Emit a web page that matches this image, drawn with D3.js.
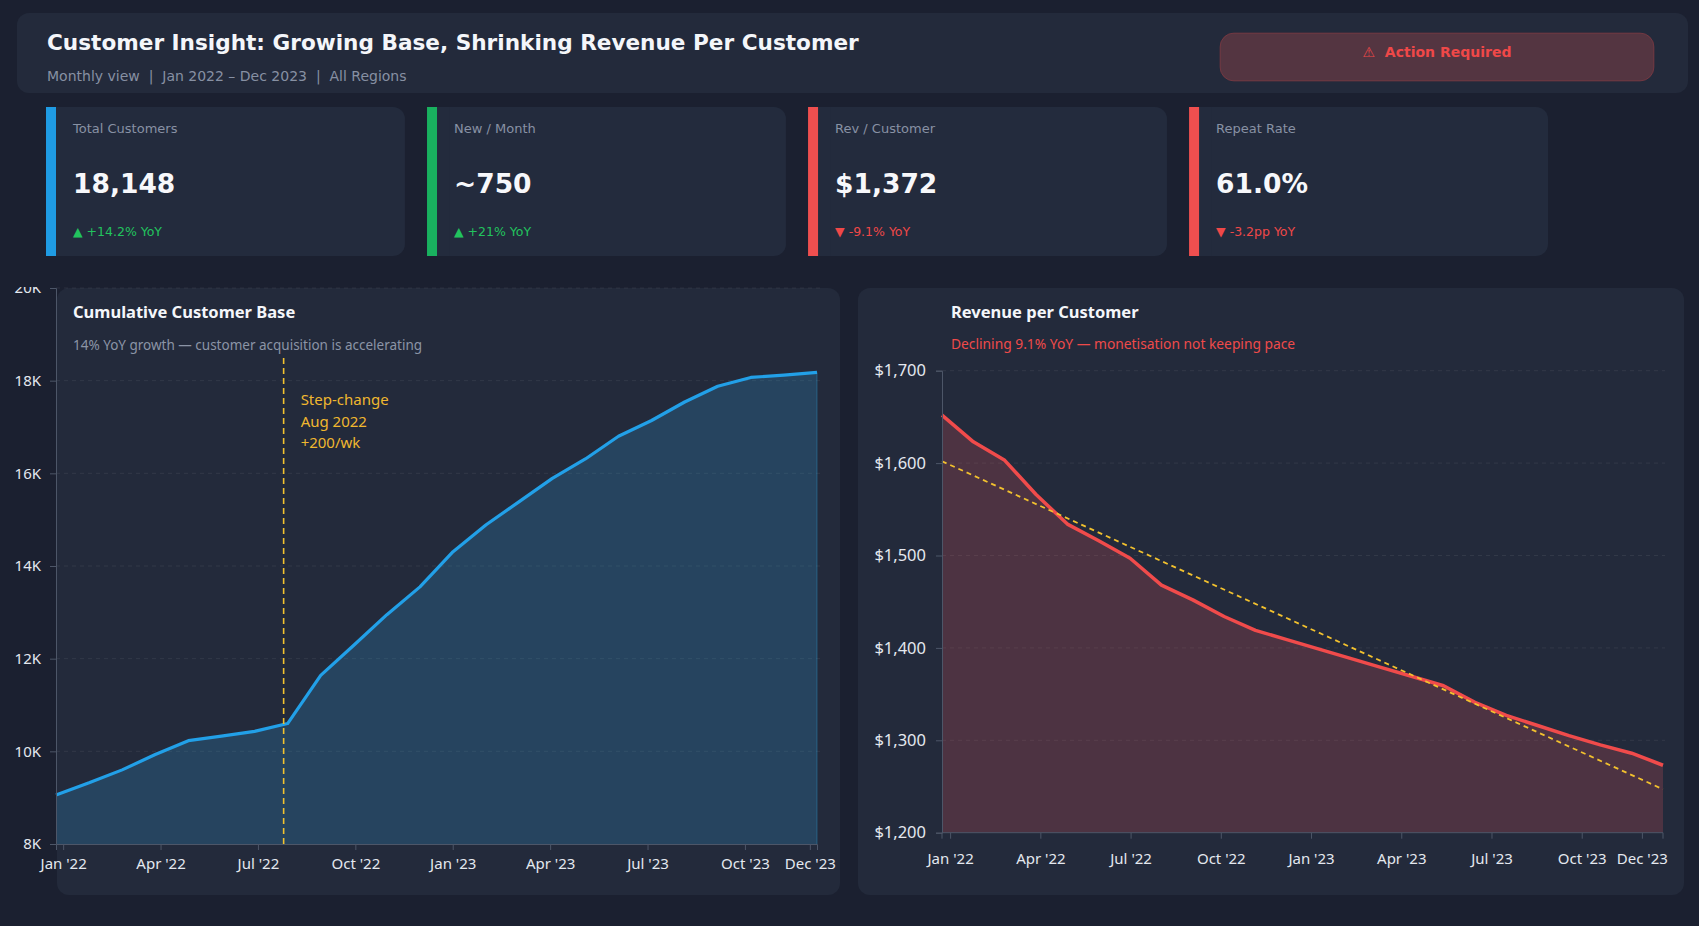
<!DOCTYPE html>
<html>
<head>
<meta charset="utf-8">
<script src="https://cdn.jsdelivr.net/npm/d3@7"></script>
<style>
  body { margin: 0; background: #1b2030; }
  svg { display: block; }
</style>
</head>
<body>
<svg id="dash" width="1699" height="926"></svg>
<script>
// ---- data ----
const months = ["Jan '22", "Feb '22", "Mar '22", "Apr '22", "May '22", "Jun '22",
  "Jul '22", "Aug '22", "Sep '22", "Oct '22", "Nov '22", "Dec '22",
  "Jan '23", "Feb '23", "Mar '23", "Apr '23", "May '23", "Jun '23",
  "Jul '23", "Aug '23", "Sep '23", "Oct '23", "Nov '23", "Dec '23"];
const tickMonths = ["Jan '22", "Apr '22", "Jul '22", "Oct '22", "Jan '23", "Apr '23", "Jul '23", "Oct '23", "Dec '23"];

// cumulative customers per month
const customerBase = [9060, 9320, 9600, 9930, 10230, 10330, 10430, 10600, 11640, 12290, 12950, 13550,
  14310, 14890, 15390, 15890, 16310, 16800, 17140, 17540, 17880, 18070, 18120, 18180];
const customerTicks = [8000, 10000, 12000, 14000, 16000, 18000, 20000];

// revenue per customer per month
const revenuePerCustomer = [1652, 1623, 1603, 1566, 1534, 1516, 1497, 1468, 1452, 1434, 1419, 1409,
  1399, 1389, 1379, 1369, 1359, 1341, 1327, 1316, 1305, 1295, 1286, 1273];
const revenueTicks = [1200, 1300, 1400, 1500, 1600, 1700];
const revenueTrend = [1602, 1247]; // trend value at first and last month

const stepChangeAt = 6.88; // month index of the step-change marker
const stepChangeNote = ["Step-change", "Aug 2022", "+200/wk"];

const kpiLabels = ["Total Customers", "New / Month", "Rev / Customer", "Repeat Rate"];
const kpiValues = ["18,148", "~750", "$1,372", "61.0%"];
const kpiDeltas = ["▲ +14.2% YoY", "▲ +21% YoY", "▼ -9.1% YoY", "▼ -3.2pp YoY"];
const kpiUp = [true, true, false, false];

// ---- styles ----
const UI = "'DejaVu Sans', sans-serif";
const CH = "'Noto Sans', sans-serif";
const panelFill = '#232a3b';
const cardFill = '#232b3d';
const accentColours = ['#1f9be3', '#19b15f', '#ef4f4f', '#ef4f4f'];
const green = '#22c35e', red = '#ef4848', yellow = '#f2c12e';
const axisColour = '#4d5668', gridColour = 'rgba(255,255,255,0.07)', tickText = '#e4e8ef';

const svg = d3.select('#dash');

// Header
svg.append('rect').attr('x', 17).attr('y', 13).attr('width', 1671).attr('height', 80)
  .attr('rx', 12).attr('fill', panelFill);
svg.append('text').attr('x', 47).attr('y', 50)
  .style('font', `bold 21.6px ${UI}`).attr('fill', '#f4f6fa')
  .text('Customer Insight: Growing Base, Shrinking Revenue Per Customer');
svg.append('text').attr('x', 47).attr('y', 81)
  .style('font', `14px ${UI}`).style('white-space', 'pre').attr('fill', '#8790a3')
  .text('Monthly view  |  Jan 2022 \u2013 Dec 2023  |  All Regions');

// Action button
svg.append('rect').attr('x', 1220).attr('y', 33).attr('width', 434).attr('height', 48)
  .attr('rx', 14).attr('fill', '#543541').attr('stroke', 'rgba(239,72,72,0.25)');
svg.append('text').attr('x', 1437).attr('y', 57).attr('text-anchor', 'middle')
  .style('font', `bold 14px ${UI}`).style('white-space', 'pre').attr('fill', red)
  .text('\u26A0  Action Required');

// KPI cards
const cardX = d3.scaleBand().domain(kpiLabels).range([46, 1548]).paddingInner(0.058);
const cards = svg.selectAll('g.kpi').data(kpiLabels).enter().append('g')
  .attr('class', 'kpi')
  .attr('transform', d => `translate(${cardX(d)},107)`);
cards.append('rect').attr('width', cardX.bandwidth()).attr('height', 149).attr('rx', 12).attr('fill', cardFill);
cards.append('rect').attr('x', 8).attr('width', 14).attr('height', 149).attr('fill', cardFill);
cards.append('rect').attr('width', 10).attr('height', 149).attr('fill', (d, i) => accentColours[i]);
cards.append('text').attr('x', 27).attr('y', 26)
  .style('font', `13px ${UI}`).attr('fill', '#8891a4').text(d => d);
cards.append('text').attr('x', 27).attr('y', 86)
  .style('font', `bold 26.5px ${UI}`).attr('fill', '#f7f8fb').text((d, i) => kpiValues[i]);
cards.append('text').attr('x', 27).attr('y', 129)
  .style('font', `12.5px ${UI}`).attr('fill', (d, i) => kpiUp[i] ? green : red)
  .text((d, i) => kpiDeltas[i]);

// styling helper for axes
function styleAxis(g, size) {
  g.select('.domain').attr('stroke', axisColour);
  g.selectAll('.tick line').attr('stroke', axisColour);
  g.selectAll('.tick text').attr('fill', tickText).style('font', `${size}px ${CH}`);
}

// ---------- Left chart: cumulative customer base ----------
svg.append('rect').attr('x', 57).attr('y', 288).attr('width', 783).attr('height', 607)
  .attr('rx', 12).attr('fill', panelFill);

svg.append('defs').append('clipPath').attr('id', 'clipL')
  .append('rect').attr('x', 0).attr('y', 287).attr('width', 850).attr('height', 640);
const gL = svg.append('g').attr('clip-path', 'url(#clipL)');

const xL = d3.scaleLinear().domain([0, months.length - 1]).range([56, 817]);
const xLAxis = d3.scalePoint().domain(months).range([56, 817]).padding(0.22);
const yL = d3.scaleLinear().domain([8000, 20000]).range([844, 288]);

gL.append('g').selectAll('line').data(customerTicks.slice(1)).enter().append('line')
  .attr('x1', 56).attr('x2', 821)
  .attr('y1', d => yL(d)).attr('y2', d => yL(d))
  .attr('stroke', gridColour).attr('stroke-dasharray', '4,4');

gL.append('path').datum(customerBase)
  .attr('fill', 'rgba(48,165,225,0.22)')
  .attr('d', d3.area().x((d, i) => xL(i)).y0(yL(8000)).y1(d => yL(d)));
gL.append('line').attr('x1', xL(months.length - 1)).attr('x2', xL(months.length - 1))
  .attr('y1', yL(customerBase[customerBase.length - 1])).attr('y2', yL(8000))
  .attr('stroke', 'rgba(48,165,225,0.35)');
gL.append('path').datum(customerBase)
  .attr('fill', 'none').attr('stroke', '#22a0e8').attr('stroke-width', 3.2)
  .attr('stroke-linejoin', 'round')
  .attr('d', d3.line().x((d, i) => xL(i)).y(d => yL(d)));

// step-change marker
gL.append('line').attr('x1', xL(stepChangeAt)).attr('x2', xL(stepChangeAt))
  .attr('y1', 358).attr('y2', yL(8000))
  .attr('stroke', yellow).attr('stroke-width', 1.6).attr('stroke-dasharray', '6,4');
gL.append('g').selectAll('text').data(stepChangeNote).enter().append('text')
  .attr('x', xL(stepChangeAt) + 17).attr('y', (d, i) => 405 + i * 21.5)
  .style('font', `15px ${CH}`).attr('fill', '#f0b72f').text(d => d);

gL.append('g').attr('transform', 'translate(56,0)')
  .call(d3.axisLeft(yL).tickValues(customerTicks).tickFormat(d => d / 1000 + 'K').tickSize(6).tickPadding(9))
  .call(g => styleAxis(g, 15));
gL.append('g').attr('transform', `translate(0,${yL(8000)})`)
  .call(d3.axisBottom(xLAxis).tickValues(tickMonths).tickSize(6).tickPadding(8))
  .call(g => styleAxis(g, 15));

svg.append('text').attr('x', 73).attr('y', 318)
  .style('font', `bold 16.5px ${CH}`).attr('fill', '#f4f6fa').text('Cumulative Customer Base');
svg.append('text').attr('x', 73).attr('y', 350)
  .style('font', `13.5px ${CH}`).attr('fill', '#8b94a6')
  .text('14% YoY growth \u2014 customer acquisition is accelerating');

// ---------- Right chart: revenue per customer ----------
svg.append('rect').attr('x', 858).attr('y', 288).attr('width', 826).attr('height', 607)
  .attr('rx', 12).attr('fill', panelFill);

const xR = d3.scaleLinear().domain([0, months.length - 1]).range([942, 1663]);
const xRAxis = d3.scalePoint().domain(months).range([942, 1650]).padding(0.27);
const yR = d3.scaleLinear().domain([1200, 1700]).range([832.7, 370.7]);
const gR = svg.append('g');

gR.append('g').selectAll('line').data(revenueTicks.slice(1)).enter().append('line')
  .attr('x1', 942).attr('x2', 1665)
  .attr('y1', d => yR(d)).attr('y2', d => yR(d))
  .attr('stroke', gridColour).attr('stroke-dasharray', '4,4');

gR.append('path').datum(revenuePerCustomer)
  .attr('fill', 'rgba(245,90,95,0.2)')
  .attr('d', d3.area().x((d, i) => xR(i)).y0(yR(1200)).y1(d => yR(d)));
gR.append('path').datum(revenuePerCustomer)
  .attr('fill', 'none').attr('stroke', '#f04b4b').attr('stroke-width', 3.5)
  .attr('stroke-linejoin', 'round')
  .attr('d', d3.line().x((d, i) => xR(i)).y(d => yR(d)));
gR.append('line')
  .attr('x1', xR(0)).attr('y1', yR(revenueTrend[0]))
  .attr('x2', xR(months.length - 1)).attr('y2', yR(revenueTrend[1]))
  .attr('stroke', yellow).attr('stroke-width', 1.8).attr('stroke-dasharray', '5,4');

gR.append('g').attr('transform', 'translate(942,0)')
  .call(d3.axisLeft(yR).tickValues(revenueTicks).tickFormat(d3.format('$,')).tickSize(6).tickPadding(10))
  .call(g => styleAxis(g, 16.5));
gR.append('g').attr('transform', `translate(0,${yR(1200)})`)
  .call(d3.axisBottom(xRAxis).tickValues(tickMonths).tickSize(6).tickPadding(15))
  .call(g => styleAxis(g, 15))
  // the axis line runs the full data range
  .call(g => g.select('.domain').attr('d', `M${xR.range()[0]},6V0H${xR.range()[1]}V6`));

svg.append('text').attr('x', 951).attr('y', 318)
  .style('font', `bold 16.5px ${CH}`).attr('fill', '#f4f6fa').text('Revenue per Customer');
svg.append('text').attr('x', 951).attr('y', 349)
  .style('font', `13.8px ${CH}`).attr('fill', '#ef4a4a')
  .text('Declining 9.1% YoY \u2014 monetisation not keeping pace');
</script>
</body>
</html>
